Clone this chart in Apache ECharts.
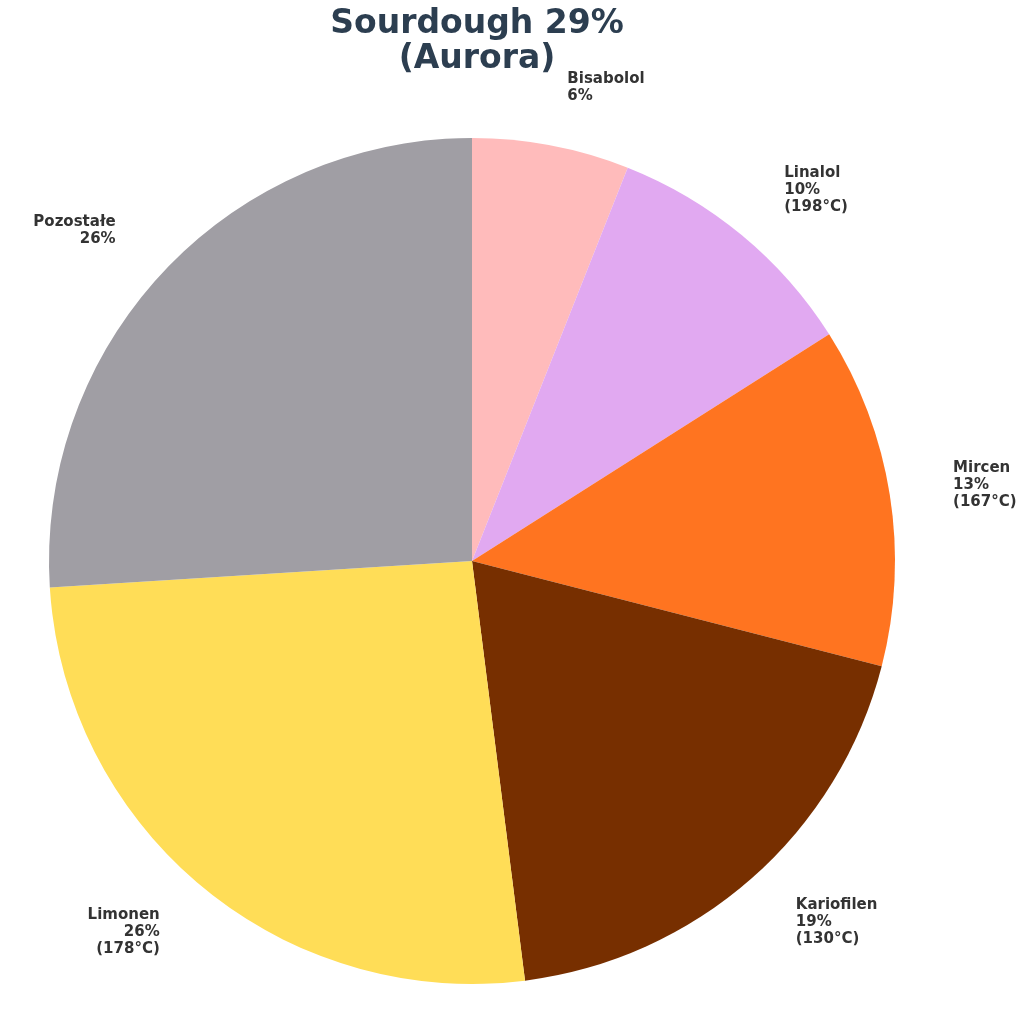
<!DOCTYPE html>
<html>
<head>
<meta charset="utf-8">
<script src="https://cdn.jsdelivr.net/npm/echarts@6/dist/echarts.min.js"></script>
<style>
  html, body { margin: 0; padding: 0; background: #fff; }
  #chart { width: 1024px; height: 1022px; }
</style>
</head>
<body>
<div id="chart"></div>
<script>
const names = ['Bisabolol', 'Linalol', 'Mircen', 'Kariofilen', 'Limonen', 'Pozostałe']
const shares = [6, 10, 13, 19, 26, 26]
const temps = [null, '198°C', '167°C', '130°C', '178°C', null]
const colors = ['#ffbbbb', '#e1a9f1', '#ff7420', '#772f00', '#ffdd57', '#a09ea4']

const chart = echarts.init(document.getElementById('chart'))

const radius = 423

chart.setOption({
  animation: false,
  title: {
    text: 'Sourdough 29%\n(Aurora)',
    left: 472,
    textAlign: 'center',
    top: 2,
    textStyle: {
      fontFamily: 'DejaVu Sans',
      fontSize: 33,
      fontWeight: 'bold',
      color: '#2c3e50',
      lineHeight: 35,
    },
  },
  series: [
    {
      type: 'pie',
      center: [472, 561],
      radius: radius,
      startAngle: 90,
      clockwise: true,
      avoidLabelOverlap: false,
      data: names.map((n, i) => ({
        name: n,
        value: shares[i],
        itemStyle: { color: colors[i] },
      })),
      label: {
        show: true,
        position: 'outside',
        fontFamily: 'DejaVu Sans',
        fontSize: 15,
        fontWeight: 'bold',
        color: '#333333',
        lineHeight: 17,
        formatter: p => {
          const t = temps[p.dataIndex]
          return p.name + '\n' + shares[p.dataIndex] + '%' + (t ? '\n(' + t + ')' : '')
        },
      },
      labelLine: {
        show: false,
        length: 59,
        length2: 0,
      },
      emphasis: { disabled: true },
    },
  ],
})
</script>
</body>
</html>
